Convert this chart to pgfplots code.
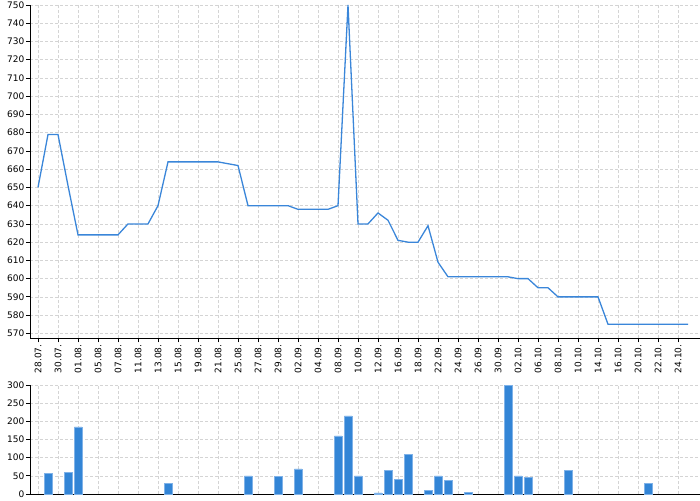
\documentclass[border=0pt]{standalone}
\usepackage{pgfplots}
\pgfplotsset{compat=1.18}
\usepackage{fontspec}
\setmainfont{DejaVu Sans}
\definecolor{lineblue}{HTML}{3A86D9}
\definecolor{barblue}{HTML}{3385D6}
\definecolor{baredge}{HTML}{7FB2E8}
\definecolor{gridgray}{HTML}{D4D4D4}
\begin{document}
\begin{tikzpicture}
\path[use as bounding box] (0,0) rectangle (700pt,500pt);
\pgfplotsset{
  every axis/.append style={
    scale only axis,
    width=670pt,
    xmin=-0.8, xmax=66.2,
    axis x line*=bottom,
    axis y line*=left,
    xtick={0,2,...,64},
    grid=major,
    major grid style={gridgray, dash pattern=on 3pt off 2pt, line width=0.6pt},
    tick style={black, line width=0.8pt},
    axis line style={black, line width=1pt},
    tick align=outside,
    major tick length=4pt,
    tick label style={font=\fontsize{9}{10}\selectfont},
    /pgf/number format/assume math mode=true,
    yticklabel style={inner sep=1.5pt},
  }
}
\begin{axis}[
  at={(30pt,161.7pt)}, anchor=south west,
  height=333.3pt,
  ymin=567.3, ymax=750,
  ytick={570,580,...,750},
  xticklabels={28.07.,30.07.,01.08.,05.08.,07.08.,11.08.,13.08.,15.08.,19.08.,21.08.,25.08.,27.08.,29.08.,02.09.,04.09.,08.09.,10.09.,12.09.,16.09.,18.09.,22.09.,24.09.,26.09.,30.09.,02.10.,06.10.,08.10.,10.10.,14.10.,16.10.,20.10.,22.10.,24.10.},
  xticklabel style={rotate=90, anchor=east, inner sep=2pt},
]
\addplot[lineblue, line width=1.3pt, mark=none] coordinates {
(0,650)(1,679)(2,679)(3,651)(4,624)(5,624)(6,624)(7,624)(8,624)(9,630)
(10,630)(11,630)(12,640)(13,664)(14,664)(15,664)(16,664)(17,664)(18,664)(19,663)
(20,662)(21,640)(22,640)(23,640)(24,640)(25,640)(26,638)(27,638)(28,638)(29,638)
(30,640)(31,750)(32,630)(33,630)(34,636)(35,632)(36,621)(37,620)(38,620)(39,629)
(40,609)(41,601)(42,601)(43,601)(44,601)(45,601)(46,601)(47,601)(48,600)(49,600)
(50,595)(51,595)(52,590)(53,590)(54,590)(55,590)(56,590)(57,575)(58,575)(59,575)
(60,575)(61,575)(62,575)(63,575)(64,575)(65,575)
};
\end{axis}
\begin{axis}[
  at={(30pt,6pt)}, anchor=south west,
  height=109pt,
  ymin=0, ymax=300,
  ytick={0,50,...,300},
  xticklabels={},
  major x tick style={draw=none},
]
\addplot[ybar, bar width=0.75, fill=barblue, draw=baredge, line width=0.5pt] coordinates {
(1,57)(3,60)(4,185)(13,30)(21,50)(24,48)(26,69)(30,160)(31,215)(32,50)
(34,3)(35,65)(36,40)(37,110)(39,10)(40,50)(41,37)(43,4)(47,300)(48,50)
(49,46)(53,65)(61,30)
};
\end{axis}
\end{tikzpicture}
\end{document}
